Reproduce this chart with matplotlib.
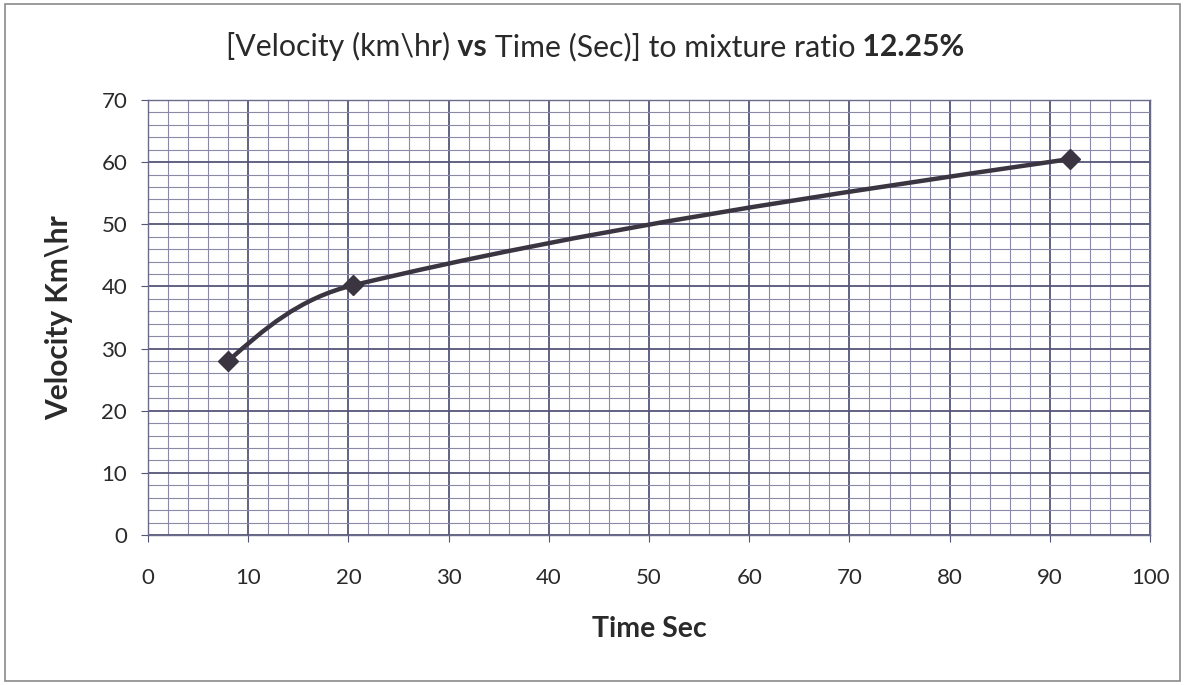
import numpy as np
import matplotlib.pyplot as plt
from matplotlib.path import Path
from matplotlib.patches import PathPatch, Rectangle

# Data
time_sec = [8.0, 20.5, 92.0]
velocity = [28.0, 40.2, 60.5]

x_ticks = list(range(0, 101, 10))
y_ticks = list(range(0, 71, 10))

title_parts = [('[Velocity (km\\hr)', 'normal'), (' vs', 'bold'),
               (' Time (Sec)] to mixture ratio', 'normal'), (' 12.25%', 'bold')]

plt.rcParams['font.family'] = ['Lato', 'DejaVu Sans']
text_color = '#2a2a2a'

fig = plt.figure(figsize=(11.85, 6.85), dpi=100)
fig.patches.append(Rectangle((0.004, 0.006), 0.992, 0.988, transform=fig.transFigure,
                             fill=False, edgecolor='#8a8a8a', linewidth=1.2))

ax = fig.add_axes([0.1249, 0.219, 0.8456, 0.635])
ax.set_xlim(0, 100)
ax.set_ylim(0, 70)
ax.set_xticks(x_ticks)
ax.set_yticks(y_ticks)
ax.set_xticks(np.arange(0, 101, 2), minor=True)
ax.set_yticks(np.arange(0, 71, 2), minor=True)
ax.grid(which='major', color='#55557a', linewidth=1.3)
ax.grid(which='minor', color='#8a8aa8', linewidth=0.8)
ax.set_axisbelow(True)
ax.tick_params(which='major', direction='out', length=5, color='#55557a',
               labelsize=16, labelcolor=text_color)
ax.tick_params(axis='y', pad=10)
ax.tick_params(axis='x', pad=19)
ax.tick_params(which='minor', length=0)
for s in ax.spines.values():
    s.set_color('#6a6a8a')
    s.set_linewidth(1.0)

# Smoothed line through the data points (Bezier, Excel-like smoothing)
pts = np.column_stack([time_sec, velocity])
n = len(pts)
ctrl = []
for i in range(n - 1):
    p1, p2 = pts[i], pts[i + 1]
    seg = np.hypot(*(p2 - p1)) / 3.0
    c1 = c2 = None
    if i > 0:
        d1 = pts[i + 1] - pts[i - 1]
        c1 = p1 + d1 / np.hypot(*d1) * seg
    if i < n - 2:
        d2 = pts[i + 2] - pts[i]
        c2 = p2 - d2 / np.hypot(*d2) * seg
    ctrl.append([c1, c2])
# free ends: aim the end tangent at the neighbouring control point
for i, (c1, c2) in enumerate(ctrl):
    p1, p2 = pts[i], pts[i + 1]
    if c1 is None:
        c1 = p1 + ((c2 if c2 is not None else p2) - p1) / 2.0
    if c2 is None:
        c2 = p2 + (c1 - p2) / 2.0
    ctrl[i] = [c1, c2]
verts = [pts[0]]
codes = [Path.MOVETO]
for i in range(n - 1):
    verts += [ctrl[i][0], ctrl[i][1], pts[i + 1]]
    codes += [Path.CURVE4] * 3
ax.add_patch(PathPatch(Path(verts, codes), fill=False, edgecolor='#3a3540',
                       linewidth=3.2, zorder=3, capstyle='round'))
ax.plot(time_sec, velocity, linestyle='none', marker='D', markersize=10.5,
        color='#3a3540', zorder=4)

ax.set_xlabel('Time Sec', fontsize=20.5, fontweight='bold', labelpad=20, color=text_color)
ax.set_ylabel('Velocity Km\\hr', fontsize=21.5, fontweight='bold', labelpad=20, color=text_color)

# Title with mixed weights, pieces placed side by side and centred
fig.canvas.draw()
renderer = fig.canvas.get_renderer()
pieces = [fig.text(0, 0.918, s, fontsize=21.8, fontweight=w, va='baseline',
                   color=text_color) for s, w in title_parts]
widths = [p.get_window_extent(renderer).width for p in pieces]
x = 595 - sum(widths) / 2
for p, wd in zip(pieces, widths):
    p.set_x(x / fig.bbox.width)
    x += wd

fig.savefig('out.png', dpi=100)
